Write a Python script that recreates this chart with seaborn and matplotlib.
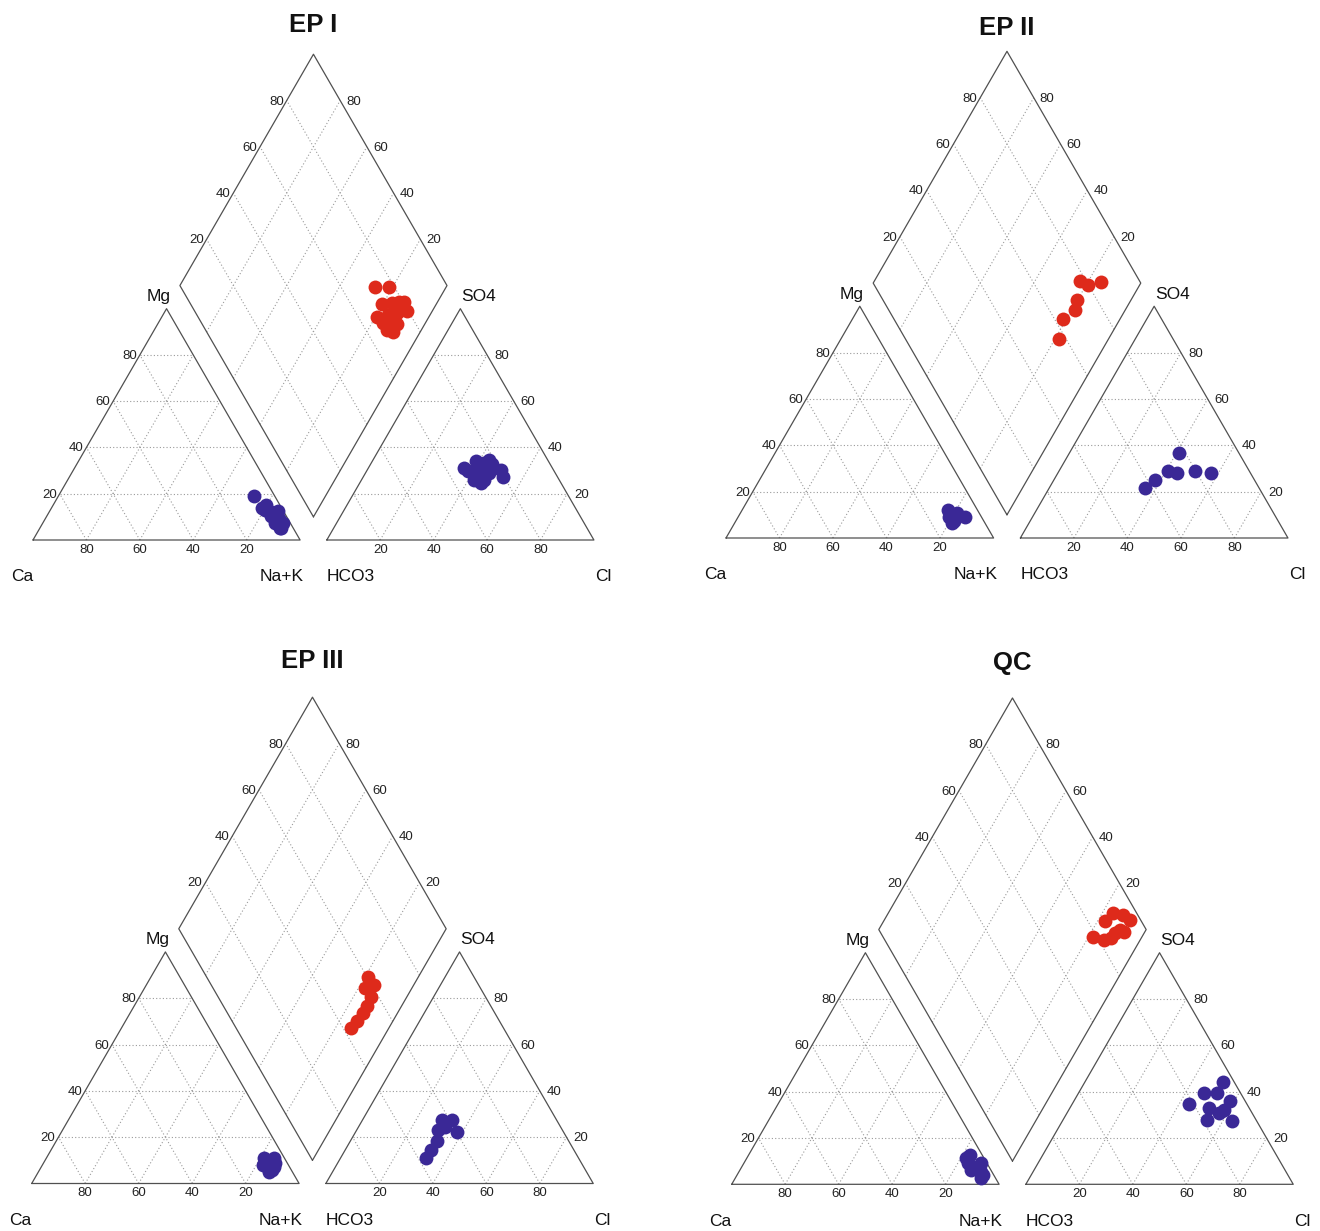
import numpy as np
import pandas as pd
import seaborn as sns
import matplotlib.pyplot as plt

sns.set_theme(style="white")
plt.rcParams["font.family"] = ["Liberation Sans", "DejaVu Sans"]

# ---------------------------------------------------------------
# Major-ion composition (% meq/L). Ca = 100 - Mg - Na+K,
# HCO3 = 100 - SO4 - Cl
# ---------------------------------------------------------------
ep1_mg = [19, 14, 15, 12, 12.5, 9, 5, 13, 11, 9, 10.5, 7.5, 5, 7.5, 9]
ep1_nak = [73.3, 78.6, 79.6, 83.0, 85.5, 87.5, 90.5, 80.5, 84.4, 87.0, 83.9, 87.0, 90.0, 89.8, 87.5]
ep1_so4 = [34, 34.6, 31, 33.4, 32.7, 30.3, 27.4, 31, 25.9, 29.1, 25.9, 30, 24.5, 29.5, 30.3]
ep1_cl = [38.8, 43.5, 40.6, 42.2, 45.6, 50.2, 52.3, 36.0, 45.8, 46.1, 42.0, 37.7, 45.4, 43.5, 40.8]

ep2_mg = [12, 11, 9, 10, 6.5, 9, 7.5]
ep2_nak = [76.8, 80.8, 84.9, 79.9, 81.1, 78.7, 81.4]
ep2_so4 = [36.8, 29.0, 28.2, 28.2, 29.0, 25.0, 21.5]
ep2_cl = [41.0, 50.9, 57.0, 44.4, 40.5, 38.0, 35.7]

ep3_mg = [11, 11, 8, 8.7, 5.8, 7.3, 5, 6]
ep3_nak = [81.4, 85.2, 82.5, 86.6, 86.9, 87.1, 86.4, 85.8]
ep3_so4 = [22.4, 27.4, 24.5, 27.4, 23.1, 18.5, 14.4, 10.9]
ep3_cl = [38.0, 33.5, 32.3, 29.6, 30.5, 32.4, 32.2, 31.9]

qc_mg = [9, 7.6, 4, 12.7, 2.6, 5.4, 9, 6.2, 11.2, 7]
qc_nak = [84.0, 88.4, 91.9, 82.9, 92.1, 90.4, 88.7, 86.4, 81.9, 89.0]
qc_so4 = [39.6, 36.1, 44.2, 39.3, 27.5, 32.1, 32.9, 27.7, 34.7, 30.7]
qc_cl = [51.6, 58.4, 51.8, 47.1, 63.5, 57.9, 52.0, 54.0, 43.8, 56.8]

titles = ["EP I", "EP II", "EP III", "QC"]
tick_values = [20, 40, 60, 80]

S60 = np.sqrt(3) / 2
OFF = 110  # x offset of the anion triangle

W, H = 1320, 1231
fig = plt.figure(figsize=(W / 100, H / 100), dpi=100)

OUTLINE = dict(color="#505050", lw=0.9, solid_capstyle="round", zorder=2)
GRID = dict(color="#9a9a9a", lw=0.8, ls=(0, (1, 2)), zorder=1)
RED = "#de2a1b"
BLUE = "#3a2896"


def lbl(ax, text, x, y, dx=0, dy=0, **kw):
    ax.annotate(text, xy=(x, y), xytext=(dx * 0.72, dy * 0.72),
                textcoords="offset points", **kw)


def draw_panel(ax, title, mg, nak, so4, cl, title_y):
    mg, nak, so4, cl = map(np.asarray, (mg, nak, so4, cl))
    hco3 = 100 - so4 - cl

    # outlines
    ax.plot([0, 100, 50, 0], [0, 0, 100 * S60, 0], **OUTLINE)
    ax.plot([OFF, OFF + 100, OFF + 50, OFF], [0, 0, 100 * S60, 0], **OUTLINE)
    dx = [105, 155, 105, 55, 105]
    dy = [10 * S60, 110 * S60, 210 * S60, 110 * S60, 10 * S60]
    ax.plot(dx, dy, **OUTLINE)

    # triangle grids
    for p in tick_values:
        for x0 in (0, OFF):
            ax.plot([x0 + p / 2, x0 + 100 - p / 2], [p * S60] * 2, **GRID)
            ax.plot([x0 + p, x0 + p + (100 - p) / 2], [0, (100 - p) * S60], **GRID)
            ax.plot([x0 + 100 - p, x0 + (100 - p) / 2], [0, (100 - p) * S60], **GRID)
        # diamond grid: constant Na+K and constant HCO3
        ax.plot([55 + p / 2, 105 + p / 2], [S60 * (110 - p), S60 * (210 - p)], **GRID)
        ax.plot([155 - p / 2, 105 - p / 2], [S60 * (110 - p), S60 * (210 - p)], **GRID)

    # tick labels
    tk = dict(fontsize=9.5, color="#222222")
    for p in tick_values:
        lbl(ax, str(p), 100 - p, 0, 0, -10, ha="center", va="center", **tk)
        lbl(ax, str(p), p / 2, p * S60, -3, -1, ha="right", va="center", **tk)
        lbl(ax, str(p), OFF + p, 0, 0, -10, ha="center", va="center", **tk)
        lbl(ax, str(p), OFF + 100 - p / 2, p * S60, 7, -1, ha="left", va="center", **tk)
        lbl(ax, str(p), 55 + p / 2, S60 * (110 + p), -3, -1, ha="right", va="center", **tk)
        lbl(ax, str(p), 155 - p / 2, S60 * (110 + p), 6, -1, ha="left", va="center", **tk)

    # corner labels
    ck = dict(fontsize=12.5, color="#111111", va="center")
    lbl(ax, "Mg", 50, 100 * S60, -8, 12, ha="center", **ck)
    lbl(ax, "SO4", OFF + 50, 100 * S60, 1, 12, ha="left", **ck)
    lbl(ax, "Ca", 0, 0, 0, -37, ha="right", **ck)
    lbl(ax, "Na+K", 100, 0, 4, -37, ha="right", **ck)
    lbl(ax, "HCO3", OFF, 0, 0, -37, ha="left", **ck)
    lbl(ax, "Cl", OFF + 100, 0, 1, -37, ha="left", **ck)

    ax.text(105, title_y, title, ha="center", va="center",
            fontsize=18.5, fontweight="bold", color="#111111")

    # projected points
    cat = pd.DataFrame({"x": nak + mg / 2, "y": mg * S60})
    an = pd.DataFrame({"x": OFF + cl + so4 / 2, "y": so4 * S60})
    t = 210 - hco3 - nak
    dia = pd.DataFrame({"x": nak + t / 2, "y": t * S60})
    mk = dict(s=100, linewidth=0, legend=False, zorder=3, ax=ax)
    sns.scatterplot(data=cat, x="x", y="y", color=BLUE, **mk)
    sns.scatterplot(data=an, x="x", y="y", color=BLUE, **mk)
    sns.scatterplot(data=dia, x="x", y="y", color=RED, **mk)


# panel rectangles (px), cation-triangle origin (px) and px per percent
layout = [
    ((0, 0, 660, 615), (33.0, 540.0), 2.671, 192.8),
    ((660, 0, 1320, 615), (726.0, 538.0), 2.676, 190.7),
    ((0, 615, 660, 1231), (31.7, 1183.5), 2.674, 195.3),
    ((660, 615, 1320, 1231), (731.7, 1184.3), 2.674, 195.1),
]
data = [
    (ep1_mg, ep1_nak, ep1_so4, ep1_cl),
    (ep2_mg, ep2_nak, ep2_so4, ep2_cl),
    (ep3_mg, ep3_nak, ep3_so4, ep3_cl),
    (qc_mg, qc_nak, qc_so4, qc_cl),
]

for (rect, origin, s, ty), title, vals in zip(layout, titles, data):
    px0, py0, px1, py1 = rect
    ox, oy = origin
    ax = fig.add_axes([px0 / W, 1 - py1 / H, (px1 - px0) / W, (py1 - py0) / H])
    ax.set_xlim((px0 - ox) / s, (px1 - ox) / s)
    ax.set_ylim((oy - py1) / s, (oy - py0) / s)
    ax.axis("off")
    draw_panel(ax, title, *vals, title_y=ty)

fig.savefig("out.png", dpi=100, facecolor="white")
